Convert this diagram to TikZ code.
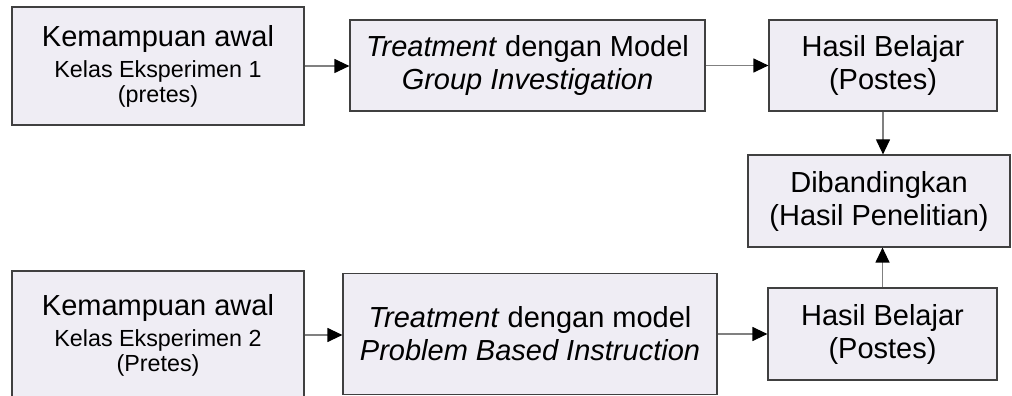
\documentclass[tikz,border=0pt]{standalone}
\usepackage{fontspec}
\setmainfont{Liberation Sans}
\usepackage{tikz}
\usetikzlibrary{arrows.meta,positioning}

\definecolor{boxfill}{RGB}{239,237,244}
\newcommand{\bigtxt}{\fontsize{29}{33}\selectfont}
\newcommand{\smalltxt}{\fontsize{23.3}{25}\selectfont}

\begin{document}
\begin{tikzpicture}[x=1pt,y=1pt]

\tikzset{stage/.style={draw=black!75, fill=boxfill, line width=1.2pt, align=center, inner sep=0pt, font=\bigtxt},
	flow/.style={draw=black!50, line width=1.2pt, -{Triangle[length=15pt,width=14pt,color=black]}}}

\useasboundingbox (0,0) rectangle (1012,396);
\clip (0,0) rectangle (1012,396);

% kelas eksperimen 1
\node[stage, font=\smalltxt, minimum width=292, minimum height=118] (awal1) at (158,330)
	{{\bigtxt Kemampuan awal}\\[6pt] Kelas Eksperimen 1\\ (pretes)};
\node[stage, minimum width=355, minimum height=91] (treat1) at (527.5,330.5)
	{\textit{Treatment} dengan Model\\ \textit{Group Investigation}};
\node[stage, minimum width=228, minimum height=91] (hasil1) at (883,330.5)
	{Hasil Belajar\\ (Postes)};

% perbandingan
\node[stage, minimum width=262, minimum height=92] (banding) at (879,195)
	{Dibandingkan\\ (Hasil Penelitian)};

% kelas eksperimen 2
\node[stage, font=\smalltxt, minimum width=292, minimum height=128] (awal2) at (158,61)
	{{\bigtxt Kemampuan awal}\\[6pt] Kelas Eksperimen 2\\ (Pretes)};
\node[stage, minimum width=374, minimum height=121] (treat2) at (530,62)
	{\textit{Treatment} dengan model\\ \textit{Problem Based Instruction}};
\node[stage, minimum width=229, minimum height=92] (hasil2) at (882.5,62)
	{Hasil Belajar\\ (Postes)};

\draw[flow] (awal1.east) -- (awal1.east -| treat1.west);
\draw[flow] (treat1.east) -- (treat1.east -| hasil1.west);
\draw[flow] (hasil1.south) -- (hasil1.south |- banding.north);
\draw[flow] (awal2.east) -- (awal2.east -| treat2.west);
\draw[flow] (treat2.east) -- (treat2.east -| hasil2.west);
\draw[flow] (hasil2.north) -- (hasil2.north |- banding.south);

\end{tikzpicture}
\end{document}
